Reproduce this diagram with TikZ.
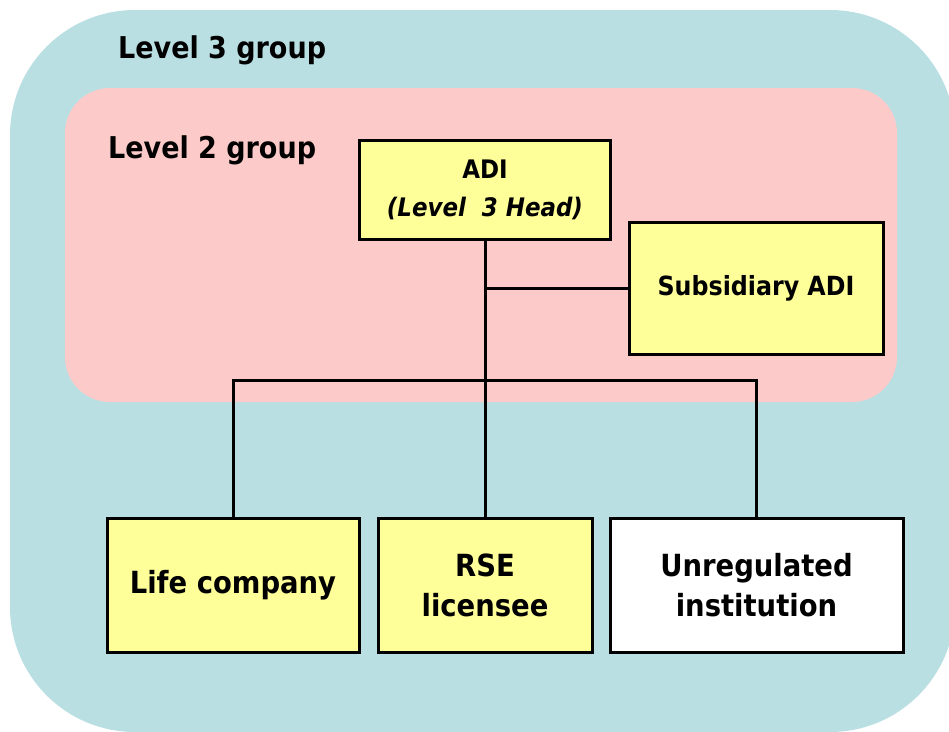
\documentclass[tikz,border=0pt]{standalone}
\usepackage{fontspec}
\setmainfont{DejaVu Sans Condensed}
\definecolor{teal3}{HTML}{B9DFE3}
\definecolor{pink2}{HTML}{FDCACA}
\definecolor{ylw}{HTML}{FFFF99}
\begin{document}
\begin{tikzpicture}[x=1pt,y=-1pt,
  box/.style={draw=black,line width=3pt,fill=ylw,align=center,font=\bfseries\fontsize{30.5}{40}\selectfont,inner sep=0pt},
  lbl/.style={anchor=west,font=\bfseries\fontsize{30}{36}\selectfont,inner sep=0pt},
  conn/.style={line width=3pt}]
\useasboundingbox (0,0) rectangle (949,731);
\begin{scope}
\clip (0,0) rectangle (949,731);
\fill[teal3,rounded corners=125pt] (10,10) rectangle (955,732);
\end{scope}
\fill[pink2,rounded corners=45pt] (65,88) rectangle (897,402);
\node[lbl] (l3) at (118,50) {Level 3 group};
\node[lbl] (l2) at (108,150) {Level 2 group};
\node[box,minimum width=251pt,minimum height=99pt,font=\bfseries\fontsize{25.5}{38}\selectfont] (adi) at (485,189.5) {ADI\\\textit{(Level\ \ 3 Head)}};
\node[box,minimum width=254pt,minimum height=132pt,font=\bfseries\fontsize{26.4}{32}\selectfont] (sub) at (756,288) {Subsidiary ADI};
\node[box,minimum width=252pt,minimum height=134pt] (life) at (233,585) {Life company};
\node[box,minimum width=214pt,minimum height=134pt] (rse) at (485,585) {RSE\\licensee};
\node[box,fill=white,minimum width=293pt,minimum height=134pt] (unr) at (756.5,585) {Unregulated\\institution};
\coordinate (j) at (adi.south |- sub.west);
\draw[conn] (adi.south) -- (rse.north);
\draw[conn] (j) -- (sub.west);
\draw[conn] (life.north) -- (life.north |- 0,380) -- (unr.north |- 0,380) -- (unr.north);
\end{tikzpicture}
\end{document}
